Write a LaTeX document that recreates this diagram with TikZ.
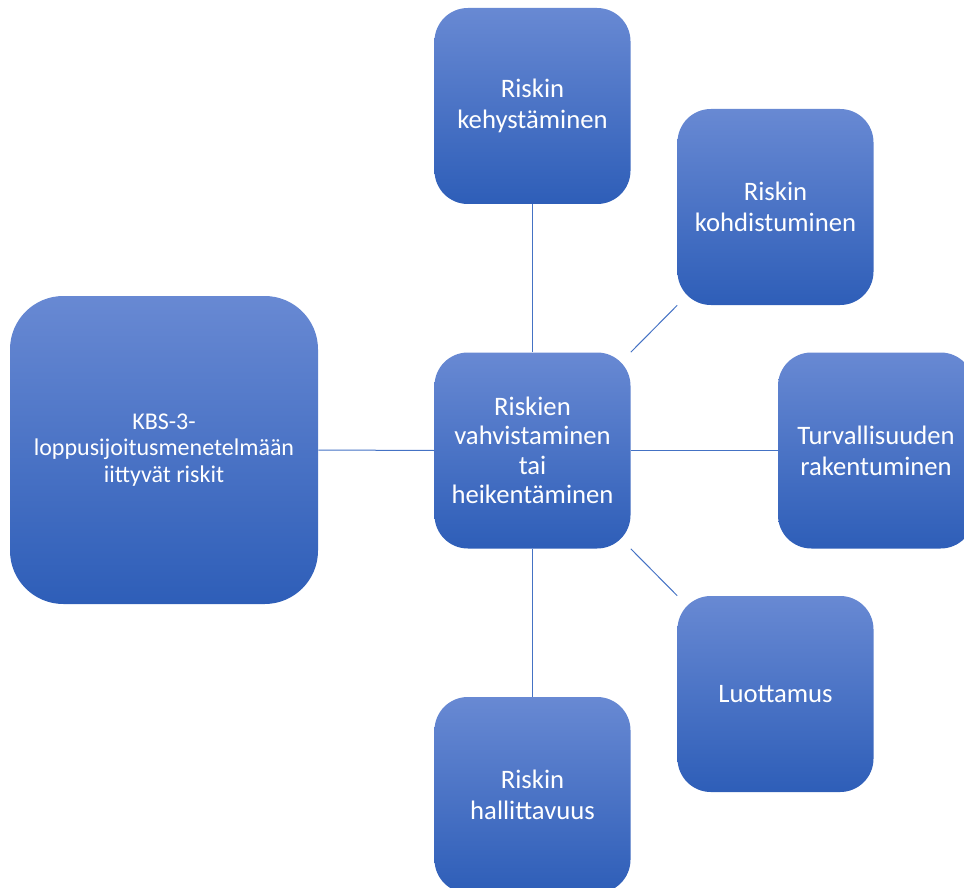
\documentclass[tikz,border=0pt]{standalone}
\usepackage{fontspec}
\setmainfont{Carlito}
\definecolor{boxtop}{RGB}{104,137,211}
\definecolor{boxbot}{RGB}{46,94,184}
\definecolor{linkblue}{RGB}{68,114,196}
\begin{document}
\begin{tikzpicture}[
					x = 0.75pt, y = -0.75pt,
					box/.style = {rounded corners = 25pt, top color = boxtop, bottom color = boxbot,
						draw = none, text = white, align = center, inner sep = 0pt,
						minimum width = 147pt, minimum height = 147pt,
						font = \fontsize{20}{23.3}\selectfont},
					bigbox/.style = {box, minimum width = 231pt, minimum height = 231pt, rounded corners = 40pt,
						font = \fontsize{18}{19.8}\selectfont},
					link/.style = {linkblue, line width = 0.75pt}
				]

					\clip (0,0) rectangle (964,888);
					\useasboundingbox (0,0) rectangle (964,888);

					\node[box, font = \fontsize{20}{22}\selectfont] (vahv) at (532.5,450.5) {Riskien\\vahvistaminen\\tai\\heikentäminen};
					\node[box] (kehys) at (532.5,106) {Riskin\\kehystäminen};
					\node[box] (kohd) at (775.5,207) {Riskin\\kohdistuminen};
					\node[box] (turv) at (876,450.5) {Turvallisuuden\\rakentuminen};
					\node[box] (luott) at (775.5,694) {Luottamus};
					\node[box] (hall) at (532.5,795) {Riskin\\hallittavuus};
					\node[bigbox] (kbs) at (164,450) {KBS-3-\\loppusijoitusmenetelmään\\iittyvät riskit};

					\draw[link] (kehys.south) -- (vahv.north);
					\draw[link] (vahv.north east) -- (kohd.south west);
					\draw[link] (vahv.east) -- (turv.west);
					\draw[link] (vahv.south east) -- (luott.north west);
					\draw[link] (vahv.south) -- (hall.north);
					\draw[link] (kbs.east) -- (vahv.west);

				\end{tikzpicture}
\end{document}
